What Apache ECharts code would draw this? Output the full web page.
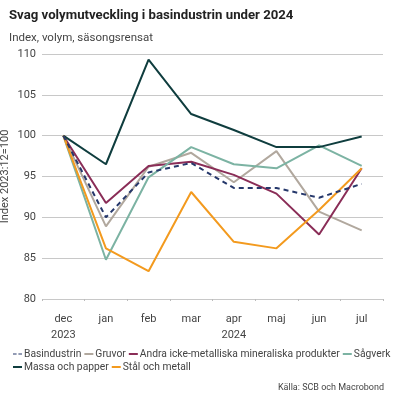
<!DOCTYPE html>
<html><head><meta charset="utf-8">
<script src="https://cdn.jsdelivr.net/npm/echarts@6/dist/echarts.min.js"></script>
<style>html,body{margin:0;padding:0;background:#fff}#c{width:397px;height:397px}</style>
</head><body><div id="c"></div>
<script>
var categories = ['dec\n2023','jan','feb','mar','apr\n2024','maj','jun','jul'];
var basindustrin = [100, 90.0, 95.5, 96.65, 93.6, 93.6, 92.4, 94.1];
var gruvor = [100, 88.9, 96.2, 97.9, 94.3, 98.1, 90.7, 88.4];
var andra = [100, 91.75, 96.3, 96.8, 95.2, 92.9, 87.9, 96.0];
var sagverk = [100, 84.8, 94.9, 98.6, 96.5, 96.0, 98.8, 96.3];
var massa = [100, 96.5, 109.3, 102.65, 100.7, 98.6, 98.6, 99.9];
var stal = [100, 86.2, 83.4, 93.1, 87.0, 86.2, 90.9, 96.0];
var yTicks = [80, 85, 90, 95, 100, 105, 110];

var F = 'Roboto, "Noto Sans", sans-serif';
function s(name, data, color, extra) {
  var o = {name: name, type: 'line', data: data, symbol: 'none', smooth: false,
    lineStyle: {color: color, width: 2}, itemStyle: {color: color}};
  if (extra) { for (var k in extra) o[k] = extra[k]; }
  return o;
}
var chart = echarts.init(document.getElementById('c'));
chart.setOption({
  animation: false,
  title: [
    {text: 'Svag volymutveckling i basindustrin under 2024', left: 4, top: 4,
     textStyle: {fontFamily: F, fontSize: 13.2, fontWeight: 'bold', color: '#222'}},
    {text: 'Index, volym, säsongsrensat', left: 4, top: 27,
     textStyle: {fontFamily: F, fontSize: 11.5, fontWeight: 'normal', color: '#444'}},
    {text: 'Källa: SCB och Macrobond', right: 8, top: 378,
     textStyle: {fontFamily: F, fontSize: 9, fontWeight: 'normal', color: '#444'}}
  ],
  legend: {
    left: 8, top: 344, width: 390, itemWidth: 9, itemHeight: 2, itemGap: 3,
    icon: 'rect',
    textStyle: {fontFamily: F, fontSize: 10.3, color: '#444', padding: [0,0,0,-3]},
    data: [
      {name: 'Basindustrin', icon: 'path://M0,0h4v1h-4zM6,0h4v1h-4z'},
      'Gruvor','Andra icke-metalliska mineraliska produkter','Sågverk','Massa och papper','Stål och metall']
  },
  grid: {left: 42, right: 14, top: 54, bottom: 98, outerBoundsMode: 'none', containLabel: false},
  xAxis: {
    type: 'category', data: categories, boundaryGap: true,
    axisLine: {show: false},
    axisTick: {show: true, length: 2, lineStyle: {color: '#bbb'}},
    axisLabel: {fontFamily: F, fontSize: 11, color: '#444', margin: 12, lineHeight: 16}
  },
  yAxis: {
    type: 'value', min: 80, max: 110, interval: 5,
    name: 'Index 2023:12=100', nameLocation: 'middle', nameGap: 31, nameMoveOverlap: false,
    nameTextStyle: {fontFamily: F, fontSize: 11, color: '#444'},
    axisLabel: {fontFamily: F, fontSize: 11, color: '#444', margin: 6},
    splitLine: {lineStyle: {color: '#c8c8c8', width: 1}}
  },
  series: [
    s('Gruvor', gruvor, '#b1a89e'),
    s('Andra icke-metalliska mineraliska produkter', andra, '#8a2d57'),
    s('Sågverk', sagverk, '#7cb3a3'),
    s('Massa och papper', massa, '#0f3d3e'),
    s('Stål och metall', stal, '#f39a1e'),
    s('Basindustrin', basindustrin, '#26386b', {lineStyle: {color: '#26386b', width: 2, type: [5, 4]}, z: 5})
  ]
});
</script></body></html>
